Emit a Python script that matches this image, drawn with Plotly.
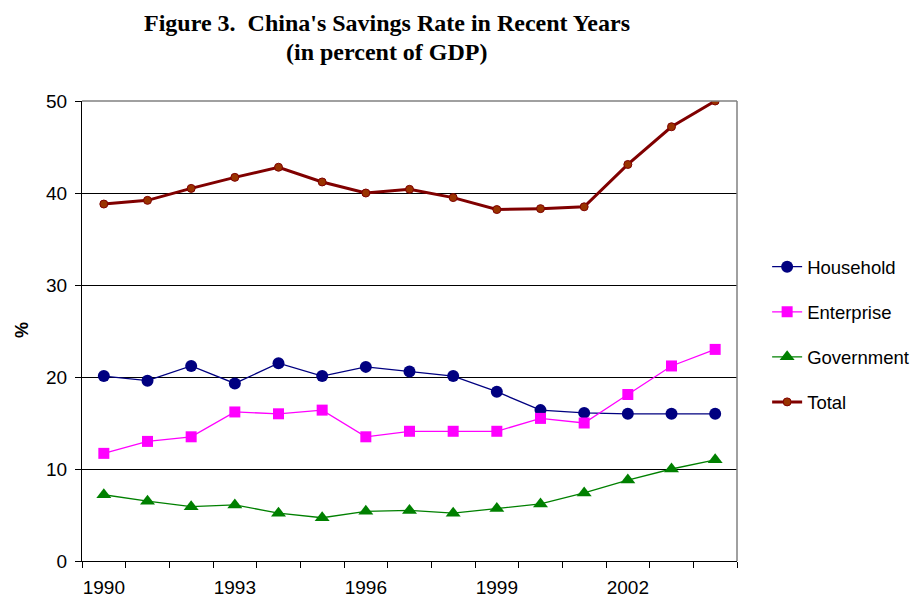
import plotly.graph_objects as go

years = list(range(1990, 2005))
household = [20.1, 19.6, 21.2, 19.3, 21.5, 20.1, 21.1, 20.6, 20.1, 18.4, 16.4, 16.1, 16.0, 16.0, 16.0]
enterprise = [11.7, 13.0, 13.5, 16.2, 16.0, 16.4, 13.5, 14.1, 14.1, 14.1, 15.5, 15.0, 18.1, 21.2, 23.0]
government = [7.2, 6.5, 5.9, 6.1, 5.2, 4.7, 5.4, 5.5, 5.2, 5.7, 6.2, 7.4, 8.8, 10.0, 11.0]
total = [38.8, 39.2, 40.5, 41.7, 42.8, 41.2, 40.0, 40.4, 39.5, 38.2, 38.3, 38.5, 43.1, 47.2, 50.0]
tick_years = [1990, 1993, 1996, 1999, 2002]
title_lines = ["Figure 3.  China's Savings Rate in Recent Years", "(in percent of GDP)"]

fig = go.Figure()
fig.add_trace(go.Scatter(x=years, y=household, name="Household", mode="lines+markers",
                         legendgroup="a",
                         line=dict(color="#000080", width=1.3),
                         marker=dict(symbol="circle", size=12, color="#000080")))
fig.add_trace(go.Scatter(x=years, y=enterprise, name="Enterprise", mode="lines+markers",
                         legendgroup="b",
                         line=dict(color="#FF00FF", width=1.3),
                         marker=dict(symbol="square", size=11, color="#FF00FF")))
fig.add_trace(go.Scatter(x=years, y=government, name="Government", mode="lines+markers",
                         legendgroup="c",
                         line=dict(color="#008000", width=1.3),
                         marker=dict(symbol="triangle-up", size=13, color="#008000")))
fig.add_trace(go.Scatter(x=years, y=total, name="Total", mode="lines+markers",
                         legendgroup="d",
                         line=dict(color="#800000", width=3),
                         marker=dict(symbol="circle", size=8, color="#993300",
                                     line=dict(color="#800000", width=1))))

fig.update_layout(
    width=914, height=594,
    paper_bgcolor="white", plot_bgcolor="white",
    margin=dict(l=74, r=185, t=93, b=41, autoexpand=False),
    font=dict(family="Liberation Sans, Arial, sans-serif", color="black"),
    showlegend=True,
    legend=dict(x=1.046, xanchor="left", y=0.68, yanchor="top",
                traceorder="grouped", tracegroupgap=18,
                font=dict(size=18.5), bgcolor="rgba(0,0,0,0)"),
    xaxis=dict(range=[1989.5, 2004.5], tickvals=tick_years, ticktext=[str(t) for t in tick_years],
               ticks="", showgrid=False, zeroline=False, showline=True, linecolor="black",
               linewidth=1, tickfont=dict(size=19), ticklabelstandoff=9, automargin=False,
               minor=dict(ticks="outside", tick0=1989.5, dtick=1, ticklen=6,
                          tickcolor="black", showgrid=False)),
    yaxis=dict(range=[0, 50], dtick=10, ticks="outside", ticklen=6, tickcolor="black",
               showgrid=True, gridcolor="black", gridwidth=1, zeroline=False,
               showline=True, linecolor="black", linewidth=1, tickfont=dict(size=19),
               ticklabelstandoff=4, automargin=False),
    annotations=[
        dict(text="<b>" + title_lines[0] + "</b>", xref="paper", yref="paper",
             x=0.4656, y=1.169, xanchor="center", yanchor="middle", showarrow=False,
             font=dict(family="Liberation Serif, Times New Roman, serif", size=24)),
        dict(text="<b>" + title_lines[1] + "</b>", xref="paper", yref="paper",
             x=0.4656, y=1.106, xanchor="center", yanchor="middle", showarrow=False,
             font=dict(family="Liberation Serif, Times New Roman, serif", size=24)),
        dict(text="<b>%</b>", xref="paper", yref="paper", x=-0.0916, y=0.502,
             xanchor="center", yanchor="middle", textangle=-90, showarrow=False,
             font=dict(size=18)),
    ],
    shapes=[
        dict(type="line", xref="paper", yref="paper", x0=1, x1=1, y0=0, y1=1,
             line=dict(color="#808080", width=1.5)),
        dict(type="line", xref="paper", yref="paper", x0=0, x1=1, y0=1, y1=1,
             line=dict(color="#808080", width=1.5)),
    ],
)

fig.write_html("out.html")
